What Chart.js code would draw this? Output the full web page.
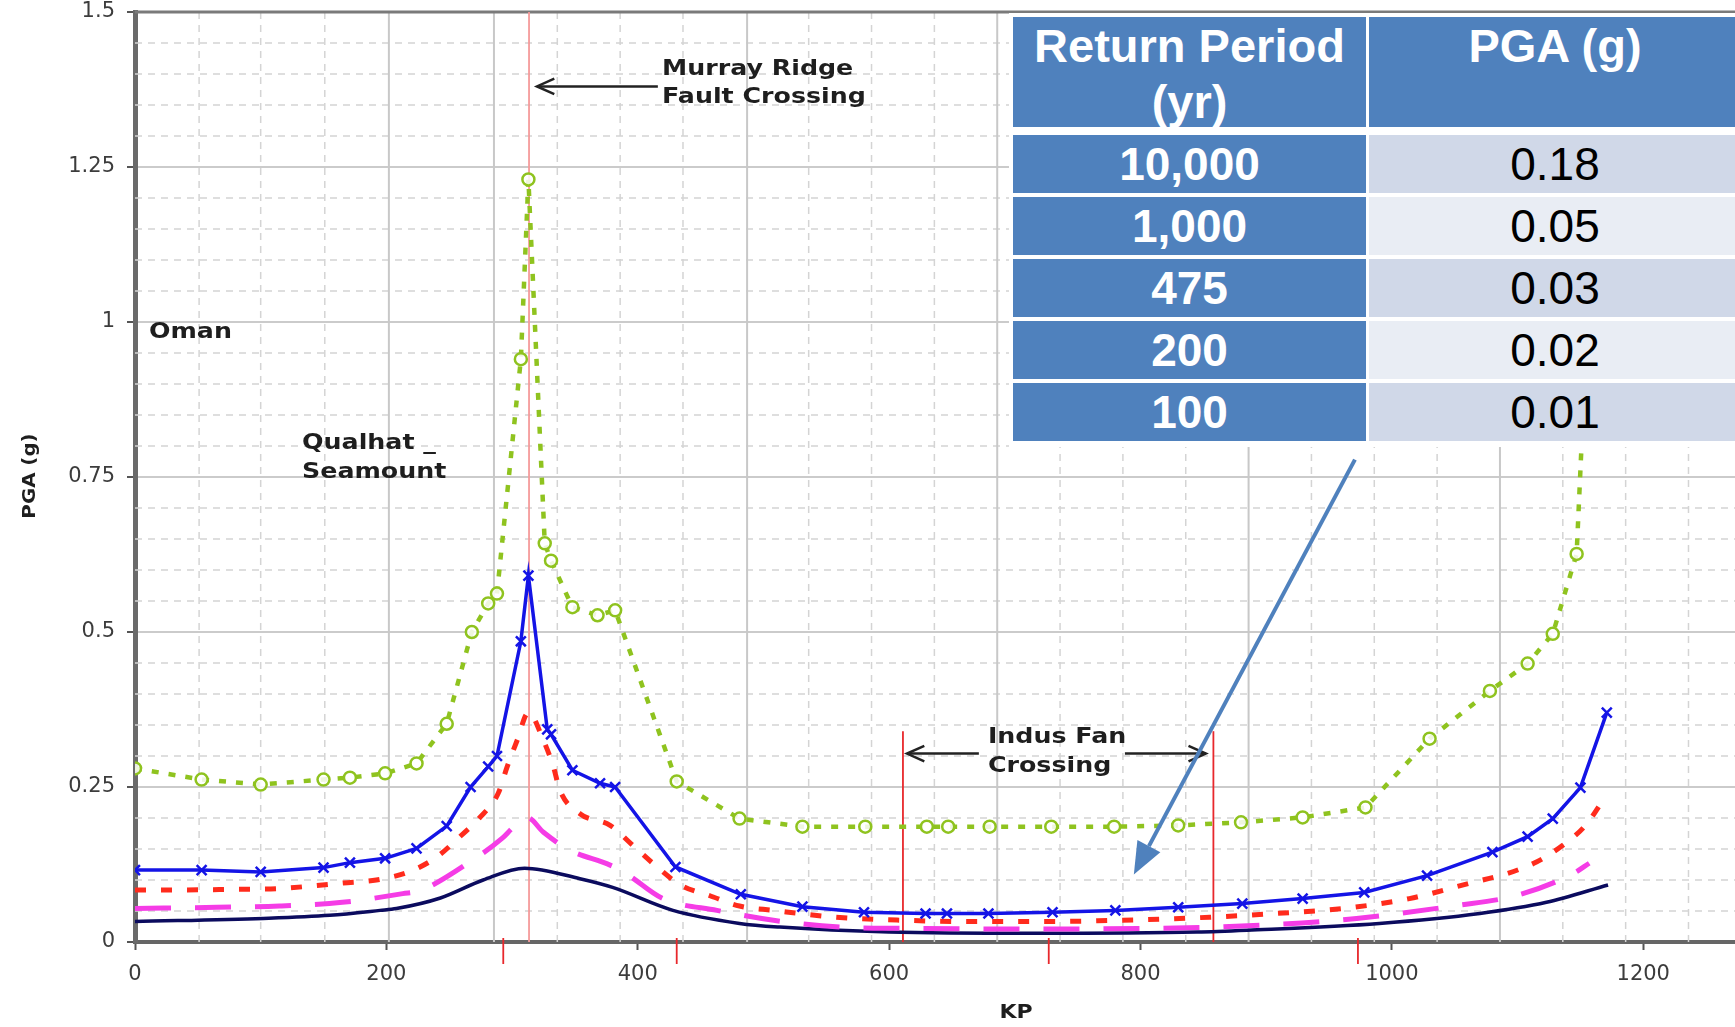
<!DOCTYPE html>
<html>
<head>
<meta charset="utf-8">
<script src="https://cdn.jsdelivr.net/npm/chart.js@4.4.1/dist/chart.umd.min.js"></script>
<style>
html,body{margin:0;padding:0;background:#fff;}
#wrap{position:relative;width:1735px;height:1027px;overflow:hidden;background:#fff;}
#c{position:absolute;left:0;top:0;}
#tbl{position:absolute;left:1009px;top:13px;width:730px;height:434px;background:#fff;}
.cell{position:absolute;box-sizing:border-box;font-family:"Liberation Sans",Arial,sans-serif;font-size:46px;text-align:center;white-space:nowrap;}
.hd{background:#4F81BD;color:#fff;font-weight:bold;font-size:47px;line-height:56px;padding-top:1px;}
.c1{background:#4F81BD;color:#fff;font-weight:bold;line-height:58px;}
.c2{color:#000;line-height:58px;}
</style>
</head>
<body>
<div id="wrap">
<canvas id="c" width="1735" height="1027"></canvas>
<div id="tbl"></div>
</div>
<script>
// ---------------- data ----------------
const xTickValues = [0, 200, 400, 600, 800, 1000, 1200];

const greenKP  = [0, 53, 100, 150, 171, 199, 224, 248, 268, 281, 288, 307, 313, 326, 331, 348, 368, 382, 431, 481, 531, 581, 630, 647, 680, 729, 779, 830, 880, 929, 979, 1030, 1078, 1108, 1128, 1147, 1162];
const greenPGA = [0.28, 0.262, 0.254, 0.262, 0.265, 0.272, 0.288, 0.352, 0.50, 0.546, 0.562, 0.94, 1.23, 0.643, 0.615, 0.54, 0.527, 0.535, 0.259, 0.199, 0.186, 0.186, 0.186, 0.186, 0.186, 0.186, 0.186, 0.188, 0.193, 0.201, 0.217, 0.328, 0.405, 0.449, 0.497, 0.626, 1.3];

const blueKP  = [0, 53, 100, 150, 171, 199, 224, 248, 267, 281, 288, 307, 313, 328, 331, 348, 370, 382, 430, 482, 531, 580, 629, 646, 679, 730, 780, 830, 881, 929, 978, 1028, 1080, 1108, 1128, 1150, 1171];
const bluePGA = [0.116, 0.116, 0.113, 0.12, 0.128, 0.135, 0.151, 0.187, 0.25, 0.283, 0.30, 0.485, 0.591, 0.343, 0.335, 0.277, 0.256, 0.25, 0.121, 0.077, 0.057, 0.048, 0.046, 0.046, 0.046, 0.048, 0.051, 0.056, 0.062, 0.07, 0.08, 0.107, 0.145, 0.17, 0.199, 0.249, 0.37];

const redKP  = [0, 40, 80, 113, 139, 165, 192, 219, 240, 258, 274, 289, 296, 304, 313, 325, 333, 338, 354, 378, 396, 412, 434, 457, 481, 508, 557, 612, 666, 720, 801, 855, 908, 961, 1014, 1064, 1091, 1115, 1136, 1154, 1170];
const redPGA = [0.084, 0.084, 0.085, 0.086, 0.09, 0.095, 0.1, 0.114, 0.137, 0.169, 0.2, 0.24, 0.282, 0.325, 0.37, 0.325, 0.282, 0.245, 0.207, 0.188, 0.156, 0.127, 0.092, 0.075, 0.058, 0.051, 0.04, 0.035, 0.033, 0.033, 0.036, 0.04, 0.046, 0.054, 0.07, 0.096, 0.11, 0.129, 0.156, 0.188, 0.235];

const magentaKP  = [0, 65, 115, 165, 213, 227, 267, 292, 301, 312, 325, 346, 378, 391, 420, 463, 508, 561, 612, 714, 805, 857, 956, 1052, 1099, 1144, 1157];
const magentaPGA = [0.054, 0.056, 0.058, 0.064, 0.078, 0.083, 0.13, 0.167, 0.185, 0.201, 0.177, 0.148, 0.124, 0.11, 0.07, 0.051, 0.035, 0.024, 0.022, 0.021, 0.022, 0.024, 0.035, 0.059, 0.075, 0.11, 0.127];

const navyKP  = [0, 102, 155, 195, 208, 243, 277, 310, 354, 380, 428, 481, 513, 600, 714, 845, 885, 990, 1070, 1123, 1172];
const navyPGA = [0.033, 0.038, 0.043, 0.051, 0.054, 0.071, 0.1, 0.119, 0.102, 0.088, 0.051, 0.03, 0.024, 0.016, 0.014, 0.016, 0.019, 0.03, 0.046, 0.064, 0.092];

// background grid of the scanned plot (KP values)
const xMajorGrid = [202, 285.6, 487, 686, 886, 1086];
const xMinorGrid = [51, 100, 151, 336, 386, 436, 536, 586, 636, 736, 786, 836, 936, 986, 1036, 1136, 1186, 1236];

// crossings / markers (KP)
const murrayKP = 313.5;
const indusKP = [611, 858];
const indusTop = 0.34;
const redTickKP = [293, 431, 727, 973];

// table
const tableHeader = ['Return Period<br>(yr)', 'PGA (g)'];
const returnPeriods = ['10,000', '1,000', '475', '200', '100'];
const pgaValues = ['0.18', '0.05', '0.03', '0.02', '0.01'];

// ---------------- table ----------------
(function buildTable(){
  const t = document.getElementById('tbl');
  const mk = (cls, left, top, w, h, html, bg) => {
    const d = document.createElement('div');
    d.className = 'cell ' + cls;
    d.style.left = left + 'px'; d.style.top = top + 'px';
    d.style.width = w + 'px'; d.style.height = h + 'px';
    if (bg) d.style.background = bg;
    d.innerHTML = html;
    t.appendChild(d);
  };
  mk('hd', 4, 4, 353, 110, tableHeader[0]);
  mk('hd', 360, 4, 372, 110, tableHeader[1]);
  returnPeriods.forEach((rp, i) => {
    const top = 122 + i * 62;
    mk('c1', 4, top, 353, 58, rp);
    mk('c2', 360, top, 372, 58, pgaValues[i], i % 2 === 0 ? '#D0D8E8' : '#E9EDF4');
  });
})();

// ---------------- chart ----------------
const pts = (xs, ys) => xs.map((x, i) => ({x: x, y: ys[i]}));

function stretchText(ctx, str, x, y, size, sx, align, rot) {
  ctx.save();
  ctx.translate(x, y);
  if (rot) ctx.rotate(rot);
  ctx.scale(sx, 1);
  ctx.font = 'bold ' + size + 'px "DejaVu Sans"';
  ctx.fillStyle = '#1e1e1e';
  ctx.textAlign = align || 'left';
  ctx.textBaseline = 'middle';
  ctx.fillText(str, 0, 0);
  ctx.restore();
}
function seg(ctx, x1, y1, x2, y2) { ctx.beginPath(); ctx.moveTo(x1, y1); ctx.lineTo(x2, y2); ctx.stroke(); }
function openArrow(ctx, x1, y1, x2, y2) {
  ctx.save();
  ctx.strokeStyle = '#222'; ctx.lineWidth = 2.5; ctx.setLineDash([]);
  seg(ctx, x1, y1, x2, y2);
  const a = Math.atan2(y2 - y1, x2 - x1), L = 19, W = 0.42;
  ctx.beginPath();
  ctx.moveTo(x2 - L * Math.cos(a - W), y2 - L * Math.sin(a - W));
  ctx.lineTo(x2, y2);
  ctx.lineTo(x2 - L * Math.cos(a + W), y2 - L * Math.sin(a + W));
  ctx.stroke();
  ctx.restore();
}

const decor = {
  id: 'decor',
  beforeDatasetsDraw(chart) {
    const {ctx, chartArea: a, scales: {x, y}} = chart;
    ctx.save();
    // minor dashed grid
    ctx.strokeStyle = '#d4d4d4'; ctx.lineWidth = 1.5; ctx.setLineDash([7, 6]);
    for (let k = 1; k < 30; k++) {
      if (k % 5 === 0) continue;
      const py = y.getPixelForValue(k * 0.05);
      seg(ctx, a.left, py, a.right, py);
    }
    xMinorGrid.forEach(v => { const px = x.getPixelForValue(v); seg(ctx, px, a.top, px, a.bottom); });
    ctx.setLineDash([]);
    ctx.strokeStyle = '#c8c8c8'; ctx.lineWidth = 2;
    xMajorGrid.forEach(v => { const px = x.getPixelForValue(v); seg(ctx, px, a.top, px, a.bottom); });
    // top border
    ctx.strokeStyle = '#7a7a7a'; ctx.lineWidth = 3;
    seg(ctx, a.left, a.top, a.right, a.top);
    // Murray Ridge line
    ctx.strokeStyle = '#f59a9a'; ctx.lineWidth = 1.8;
    const mx = x.getPixelForValue(murrayKP);
    seg(ctx, mx, a.top, mx, a.bottom);
    // Indus Fan lines
    ctx.strokeStyle = '#e8282c'; ctx.lineWidth = 1.8;
    indusKP.forEach(v => { const px = x.getPixelForValue(v); seg(ctx, px, y.getPixelForValue(indusTop), px, a.bottom); });
    // small red ticks below the axis
    redTickKP.forEach(v => { const px = x.getPixelForValue(v); seg(ctx, px, a.bottom - 4, px, a.bottom + 22); });
    ctx.restore();
  },
  afterDatasetsDraw(chart) {
    const {ctx, scales: {x, y}} = chart;
    const X = v => x.getPixelForValue(v), Y = v => y.getPixelForValue(v);
    // annotations
    stretchText(ctx, 'Murray Ridge', X(419.3), Y(1.407), 22, 1.15);
    stretchText(ctx, 'Fault Crossing', X(419.3), Y(1.362), 22, 1.15);
    openArrow(ctx, X(416), Y(1.38), X(319.8), Y(1.38));
    stretchText(ctx, 'Indus Fan', X(678.6), Y(0.330), 22, 1.15);
    stretchText(ctx, 'Crossing', X(678.6), Y(0.283), 22, 1.15);
    openArrow(ctx, X(671.4), Y(0.304), X(614.2), Y(0.304));
    openArrow(ctx, X(787.6), Y(0.304), X(852), Y(0.304));
    stretchText(ctx, 'Oman', X(11.1), Y(0.983), 22, 1.15);
    stretchText(ctx, 'Qualhat _', X(132.9), Y(0.804), 22, 1.15);
    stretchText(ctx, 'Seamount', X(132.9), Y(0.758), 22, 1.15);
    // big blue callout arrow
    const x1 = X(970.6), y1 = Y(0.778), x2 = X(794.7), y2 = Y(0.109);
    const a = Math.atan2(y2 - y1, x2 - x1), L = 32, H = 13;
    const bx = x2 - L * Math.cos(a), by = y2 - L * Math.sin(a);
    ctx.save();
    ctx.strokeStyle = '#4F81BD'; ctx.fillStyle = '#4F81BD'; ctx.lineWidth = 4;
    seg(ctx, x1, y1, bx, by);
    ctx.beginPath();
    ctx.moveTo(x2, y2);
    ctx.lineTo(bx + H * Math.sin(a), by - H * Math.cos(a));
    ctx.lineTo(bx - H * Math.sin(a), by + H * Math.cos(a));
    ctx.closePath(); ctx.fill();
    ctx.restore();
    // axis titles
    stretchText(ctx, 'KP', 1016, 1013, 20, 1.1, 'center');
    stretchText(ctx, 'PGA (g)', 30, 476, 18, 1.1, 'center', -Math.PI / 2);
  }
};

const tickFont = {family: '"DejaVu Sans"', size: 21};

new Chart(document.getElementById('c'), {
  type: 'line',
  data: {
    datasets: [
      {label: 'Green', data: pts(greenKP, greenPGA), borderColor: '#8fc31f', borderWidth: 4.5, borderDash: [7, 10],
       pointStyle: 'circle', pointRadius: 6, pointBorderWidth: 2.5, pointBorderColor: '#8fc31f', pointBackgroundColor: 'rgba(255,255,255,0.85)', tension: 0},
      {label: 'Blue', data: pts(blueKP, bluePGA), borderColor: '#1414e6', borderWidth: 3.5,
       pointStyle: 'crossRot', pointRadius: 7, pointBorderWidth: 2.5, pointBorderColor: '#1414e6', tension: 0},
      {label: 'Red', data: pts(redKP, redPGA), borderColor: '#ff2b1c', borderWidth: 5, borderDash: [11, 15],
       pointRadius: 0, cubicInterpolationMode: 'monotone'},
      {label: 'Magenta', data: pts(magentaKP, magentaPGA), borderColor: '#f53ce6', borderWidth: 5, borderDash: [36, 24],
       pointRadius: 0, cubicInterpolationMode: 'monotone'},
      {label: 'Navy', data: pts(navyKP, navyPGA), borderColor: '#0b0b5e', borderWidth: 3.5,
       pointRadius: 0, cubicInterpolationMode: 'monotone'}
    ]
  },
  options: {
    responsive: false,
    animation: false,
    layout: {autoPadding: false, padding: {top: 12, left: 0, right: 0, bottom: 0}},
    plugins: {legend: {display: false}, tooltip: {enabled: false}},
    scales: {
      x: {
        type: 'linear', min: 0, max: 1273,
        afterBuildTicks: s => { s.ticks = xTickValues.map(v => ({value: v})); },
        afterFit: s => { s.height = 85; s.paddingLeft = 0; s.paddingRight = 0; },
        grid: {drawOnChartArea: false, drawTicks: true, tickLength: 8, tickColor: '#555', tickWidth: 2},
        border: {display: true, color: '#666', width: 4},
        ticks: {font: tickFont, color: '#3c3c3c', padding: 12, maxRotation: 0, autoSkip: false,
                callback: v => String(v)}
      },
      y: {
        min: 0, max: 1.5,
        ticks: {stepSize: 0.25, font: tickFont, color: '#3c3c3c', padding: 12,
                callback: v => String(Math.round(v * 100) / 100)},
        afterFit: s => { s.width = 135; s.paddingTop = 0; s.paddingBottom = 0; },
        grid: {color: '#cbcbcb', lineWidth: 2, tickLength: 8, tickColor: '#555', tickWidth: 2},
        border: {display: true, color: '#6a6a6a', width: 5}
      }
    }
  },
  plugins: [decor]
});
</script>
</body>
</html>
